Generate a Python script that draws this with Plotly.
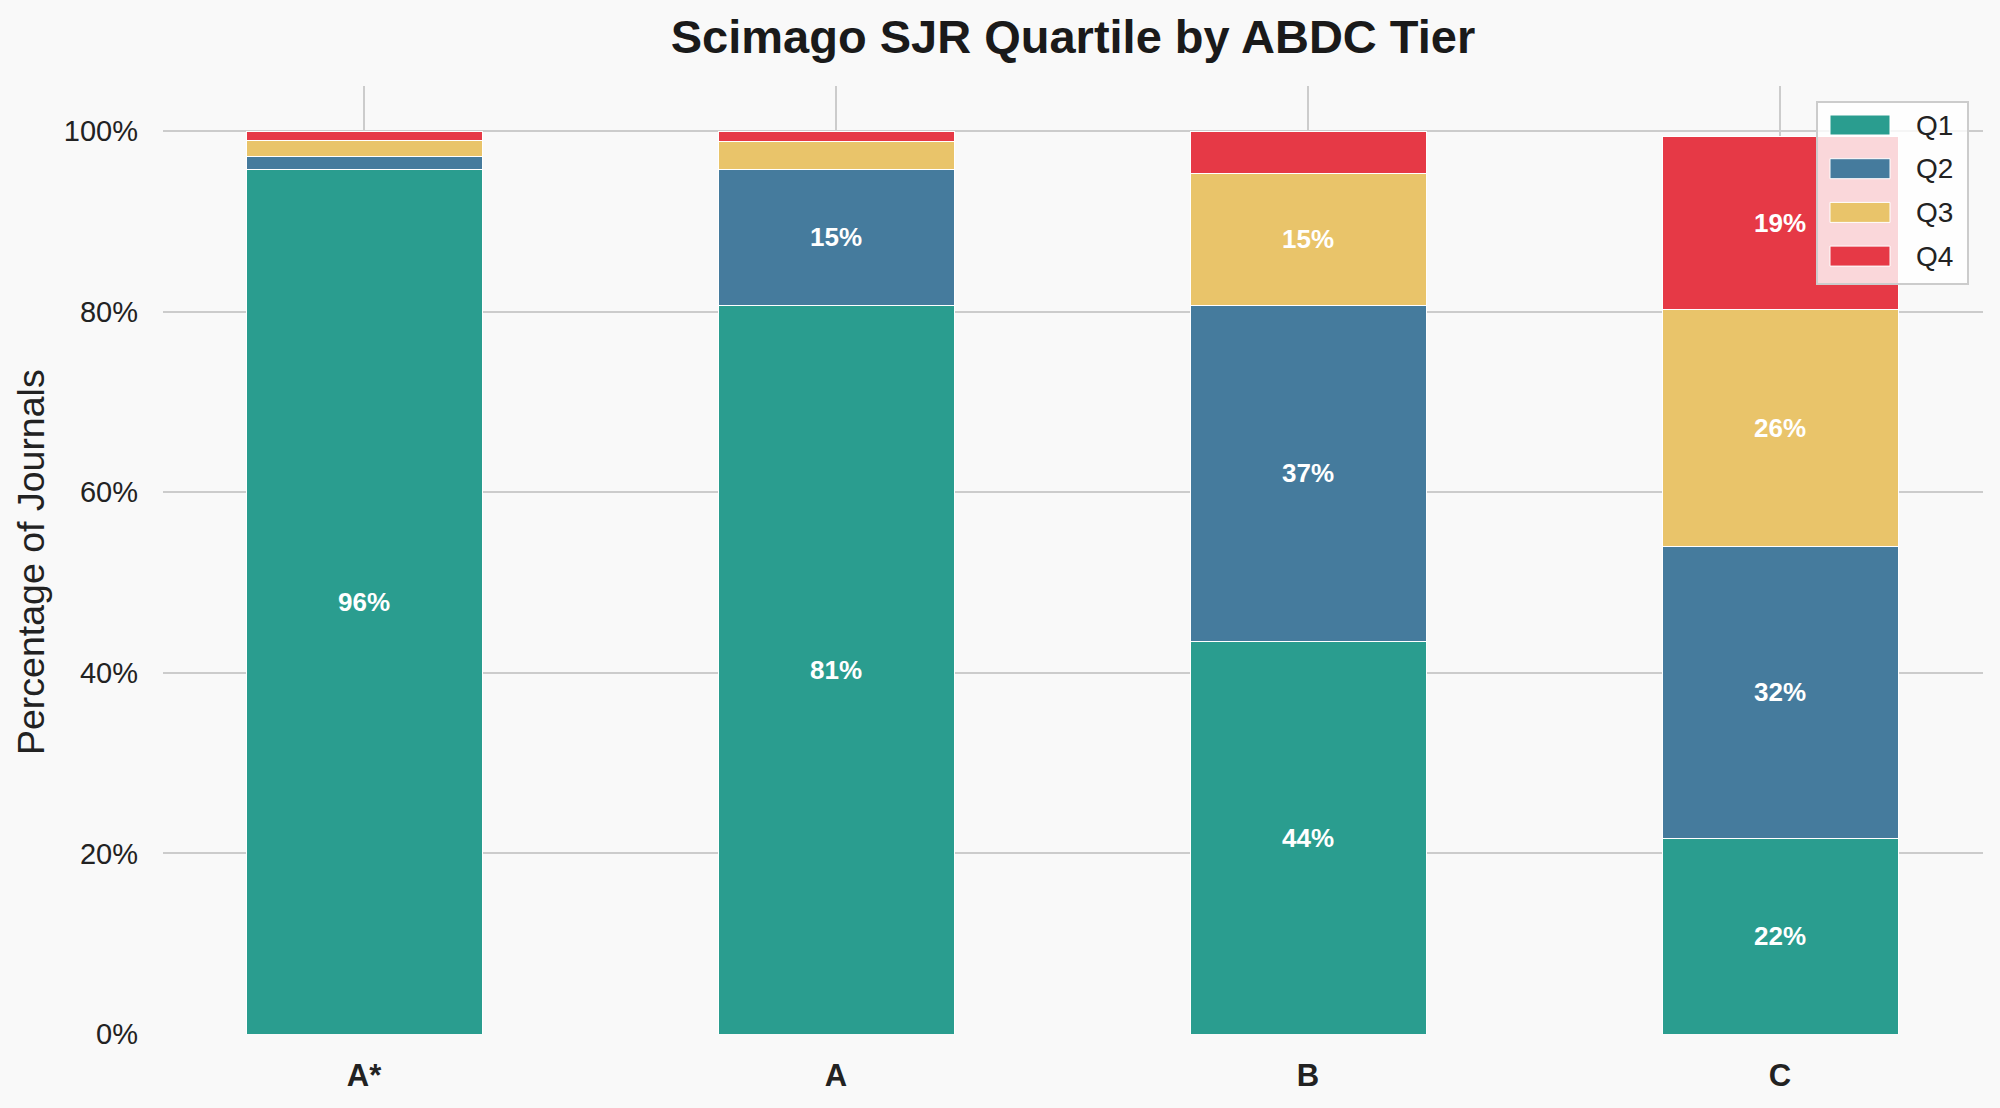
import plotly.graph_objects as go

tiers = ["A*", "A", "B", "C"]
quartiles = ["Q1", "Q2", "Q3", "Q4"]
q1 = [95.8, 80.7, 43.5, 21.7]
q2 = [1.4, 15.1, 37.2, 32.3]
q3 = [1.8, 3.1, 14.6, 26.2]
q4 = [1.0, 1.1, 4.7, 19.2]
colors = ["#2a9d8f", "#457b9d", "#e9c46a", "#e63946"]
yticks = [0, 20, 40, 60, 80, 100]
label_min = 5

FONT = "Liberation Sans, Arial, Helvetica, sans-serif"
BG = "#f9f9f9"

W, H = 2000, 1108
ML, MR, MT, MB = 163, 17, 86, 74
PW, PH = W - ML - MR, H - MT - MB


def px(x):
    return (x - ML) / PW


def py(y):
    return (H - MB - y) / PH


fig = go.Figure()
for name, vals, col in zip(quartiles, [q1, q2, q3, q4], colors):
    fig.add_trace(go.Bar(
        x=tiers, y=vals, name=name, width=0.5,
        marker=dict(color=col, line=dict(color="white", width=1)),
        text=[f"{v:.0f}%" if v >= label_min else "" for v in vals],
        textposition="inside", insidetextanchor="middle", textangle=0,
        textfont=dict(family=FONT, size=26, color="white", weight="bold"),
        showlegend=False,
    ))

# legend box drawn as layout shapes/annotations (matplotlib-style wide swatches)
shapes = [dict(type="rect", xref="paper", yref="paper", layer="above",
               x0=px(1817), x1=px(1968), y0=py(284), y1=py(102),
               fillcolor="rgba(255,255,255,0.8)", line=dict(color="#cccccc", width=2))]
annotations = []
for i, (name, col) in enumerate(zip(quartiles, colors)):
    yc = 125 + i * 43.7
    shapes.append(dict(type="rect", xref="paper", yref="paper", layer="above",
                       x0=px(1830), x1=px(1890), y0=py(yc + 10), y1=py(yc - 10),
                       fillcolor=col, line=dict(color="white", width=1)))
    annotations.append(dict(text=name, xref="paper", yref="paper", x=px(1914), y=py(yc),
                            xanchor="left", yanchor="middle", showarrow=False,
                            font=dict(size=28, color="#222222", family=FONT)))

# y-axis title
annotations.append(dict(text="Percentage of Journals", xref="paper", yref="paper",
                        x=px(31), y=py(562), xanchor="center", yanchor="middle",
                        textangle=-90, showarrow=False,
                        font=dict(size=37.5, color="#222222", family=FONT)))

fig.update_layout(
    barmode="stack",
    width=W, height=H,
    paper_bgcolor=BG, plot_bgcolor=BG,
    margin=dict(l=ML, r=MR, t=MT, b=MB),
    font=dict(family=FONT, color="#222222"),
    title=dict(text="<b>Scimago SJR Quartile by ABDC Tier</b>", x=0.5365, xanchor="center",
               y=0.967, yanchor="middle", font=dict(size=47, color="#1a1a1a")),
    showlegend=False,
    shapes=shapes,
    annotations=annotations,
)
fig.update_xaxes(
    type="category", range=[-0.426, 3.43],
    showgrid=True, gridcolor="#cccccc", gridwidth=2,
    showline=False, zeroline=False, ticks="",
    tickfont=dict(size=31, color="#222222", weight="bold"),
    ticklabelstandoff=20,
)
fig.update_yaxes(
    range=[0, 105], tickmode="array", tickvals=yticks, ticktext=[f"{v}%" for v in yticks],
    showgrid=True, gridcolor="#cccccc", gridwidth=2,
    showline=False, zeroline=False, ticks="",
    tickfont=dict(size=29, color="#222222"),
    ticklabelstandoff=24,
)
fig.write_html("out.html")
